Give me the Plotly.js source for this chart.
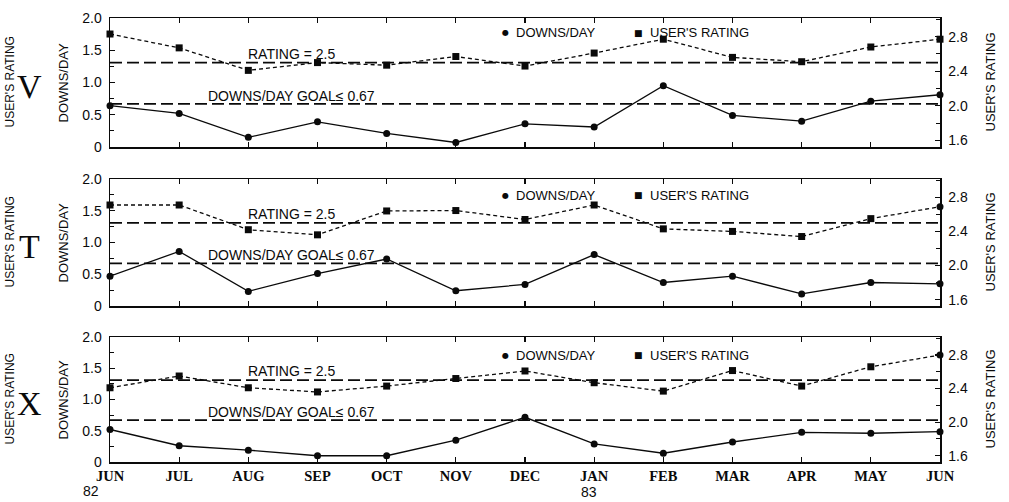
<!DOCTYPE html>
<html><head><meta charset="utf-8">
<script src="https://cdn.plot.ly/plotly-3.0.1.min.js"></script>
<style>html,body{margin:0;padding:0;background:#fff;overflow:hidden}</style>
</head><body><div id="chart" style="width:1009px;height:502px"></div>
<script>
// ---- data ----
const months = ["JUN","JUL","AUG","SEP","OCT","NOV","DEC","JAN","FEB","MAR","APR","MAY","JUN"];
const monthIndex = [0,1,2,3,4,5,6,7,8,9,10,11,12];
const yearLabels = ["82","83"];

const downsV  = [0.64,0.52,0.15,0.39,0.21,0.07,0.36,0.31,0.95,0.49,0.40,0.71,0.81];
const ratingV = [2.83,2.67,2.41,2.50,2.47,2.57,2.46,2.61,2.77,2.56,2.51,2.68,2.77];

const downsT  = [0.47,0.86,0.23,0.51,0.74,0.24,0.34,0.81,0.37,0.47,0.19,0.37,0.35];
const ratingT = [2.71,2.71,2.42,2.36,2.64,2.645,2.54,2.71,2.43,2.40,2.34,2.55,2.69];

const downsX  = [0.52,0.26,0.19,0.10,0.10,0.35,0.715,0.29,0.14,0.32,0.475,0.46,0.485];
const ratingX = [2.41,2.55,2.41,2.36,2.43,2.52,2.61,2.47,2.37,2.615,2.43,2.66,2.80];

const ratingTarget = 2.5;
const downsGoal = 0.67;
const leftTicks = [0,0.5,1,1.5,2];
const leftTickText = ["0","0.5","1.0","1.5","2.0"];
const leftMinor = [0.25,0.75,1.25,1.75];
const rightTicks = [1.6,2.0,2.4,2.8];
const rightTickText = ["1.6","2.0","2.4","2.8"];
const rightMinor = [1.8,2.2,2.6,3.0];

// ---- layout geometry ----
const W=1009, H=502, ML=110, MR=69, MT=18, MB=40;
const PW=W-ML-MR, PH=H-MT-MB;
const xp = px => (px-ML)/PW;
const yp = py => (H-MB-py)/PH;
const INK = '#0a0a0a';
const SANS = 'Liberation Sans, Arial, sans-serif';
const SERIF = 'Liberation Serif, Times New Roman, serif';

const panels = [
  {name:'V', downs:downsV, rating:ratingV, last:'square', x:'x3', y:'y5', y2:'y6', top:18,  bottom:147, bottomAxis:false},
  {name:'T', downs:downsT, rating:ratingT, last:'circle', x:'x2', y:'y3', y2:'y4', top:179, bottom:306, bottomAxis:false},
  {name:'X', downs:downsX, rating:ratingX, last:'circle', x:'x',  y:'y',  y2:'y2', top:337, bottom:462, bottomAxis:true}
];
const axKey = id => (id[0]==='x'?'xaxis':'yaxis') + id.slice(1);

const data = [], shapes = [], annotations = [];
const layout = {
  width:W, height:H, margin:{l:ML, r:MR, t:MT, b:MB, autoexpand:false},
  paper_bgcolor:'#fff', plot_bgcolor:'rgba(0,0,0,0)', showlegend:false,
  font:{family:SANS, color:INK}
};

panels.forEach(p => {
  const dom = [yp(p.bottom), yp(p.top)];
  const mid = (p.top+p.bottom)/2;
  data.push({x:monthIndex, y:p.downs, xaxis:p.x, yaxis:p.y, mode:'lines+markers',
    line:{color:INK, width:1.3}, marker:{symbol:'circle', size:7, color:INK}, cliponaxis:false});
  const syms = p.rating.map((v,i)=> i===p.rating.length-1 ? p.last : 'square');
  data.push({x:monthIndex, y:p.rating, xaxis:p.x, yaxis:p.y2, mode:'lines+markers',
    line:{color:INK, width:1.3, dash:'4px,3px'}, marker:{symbol:syms, size:7, color:INK}, cliponaxis:false});

  layout[axKey(p.x)] = {domain:[0,1], range:[0,12], anchor:p.y, tickmode:'array',
    tickvals:monthIndex, ticktext:months, showticklabels:p.bottomAxis,
    ticks:'inside', ticklen:5, tickwidth:1.2, tickcolor:INK, showline:true, linecolor:INK, linewidth:1.5,
    mirror:'ticks', showgrid:false, zeroline:false, fixedrange:true,
    tickfont:{family:SERIF, size:14.5, color:INK, weight:'bold'}};
  layout[axKey(p.y)] = {domain:dom, range:[0,2], anchor:p.x, tickmode:'array',
    tickvals:leftTicks, ticktext:leftTickText, ticks:'inside', ticklen:5, tickwidth:1.2, tickcolor:INK,
    minor:{tickmode:'array', tickvals:leftMinor, ticks:'inside', ticklen:4, tickwidth:1, tickcolor:INK},
    showline:true, linecolor:INK, linewidth:1.5, showgrid:false, zeroline:false, ticklabelstandoff:4,
    tickfont:{family:SANS, size:14, color:INK}};
  layout[axKey(p.y2)] = {overlaying:p.y, side:'right', anchor:p.x, range:[1.525,3.015], tickmode:'array',
    tickvals:rightTicks, ticktext:rightTickText, ticks:'inside', ticklen:5, tickwidth:1.2, tickcolor:INK,
    minor:{tickmode:'array', tickvals:rightMinor, ticks:'inside', ticklen:4, tickwidth:1, tickcolor:INK},
    showline:true, linecolor:INK, linewidth:1.5, showgrid:false, zeroline:false, ticklabelstandoff:4,
    tickfont:{family:SANS, size:14, color:INK}};

  shapes.push({type:'line', xref:p.x, yref:p.y2, x0:0, x1:12, y0:ratingTarget, y1:ratingTarget,
    line:{color:INK, width:1.8, dash:'12px,5px'}});
  shapes.push({type:'line', xref:p.x, yref:p.y, x0:0, x1:12, y0:downsGoal, y1:downsGoal,
    line:{color:INK, width:1.8, dash:'12px,5px'}});

  annotations.push({xref:'paper', yref:p.y2, x:xp(246), y:ratingTarget, xanchor:'left', yanchor:'bottom',
    text:'RATING = ' + ratingTarget, showarrow:false, yshift:-1, font:{family:SANS, size:14, color:INK}});
  annotations.push({xref:'paper', yref:p.y, x:xp(206), y:downsGoal, xanchor:'left', yanchor:'bottom',
    text:'DOWNS/DAY GOAL\u2264 ' + downsGoal, showarrow:false, yshift:-2, font:{family:SANS, size:14, color:INK}});

  const ly = p.name==='V'?33:(p.name==='T'?195:355);
  annotations.push({xref:'paper', yref:'paper', x:xp(505), y:yp(ly), xanchor:'center', yanchor:'middle',
    text:'\u25CF', showarrow:false, font:{family:'DejaVu Sans', size:8, color:INK}});
  annotations.push({xref:'paper', yref:'paper', x:xp(514), y:yp(ly), xanchor:'left', yanchor:'middle',
    text:'DOWNS/DAY', showarrow:false, font:{family:SANS, size:13, color:INK}});
  annotations.push({xref:'paper', yref:'paper', x:xp(638), y:yp(ly), xanchor:'center', yanchor:'middle',
    text:'\u25A0', showarrow:false, font:{family:'DejaVu Sans', size:9, color:INK}});
  annotations.push({xref:'paper', yref:'paper', x:xp(648), y:yp(ly), xanchor:'left', yanchor:'middle',
    text:"USER'S RATING", showarrow:false, font:{family:SANS, size:13, color:INK}});

  annotations.push({xref:'paper', yref:'paper', x:xp(29), y:yp(mid+4), xanchor:'center', yanchor:'middle',
    text:p.name, showarrow:false, font:{family:SERIF, size:34, color:INK}});
  annotations.push({xref:'paper', yref:'paper', x:xp(9), y:yp(mid), xanchor:'center', yanchor:'middle',
    text:"USER'S RATING", textangle:-90, showarrow:false, borderpad:0, font:{family:SANS, size:12, color:INK}});
  annotations.push({xref:'paper', yref:'paper', x:xp(63), y:yp(mid), xanchor:'center', yanchor:'middle',
    text:'DOWNS/DAY', textangle:-90, showarrow:false, font:{family:SANS, size:13, color:INK}});
  annotations.push({xref:'paper', yref:'paper', x:xp(990), y:yp(mid), xanchor:'center', yanchor:'middle',
    text:"USER'S RATING", textangle:-90, showarrow:false, font:{family:SANS, size:13, color:INK}});
});

annotations.push({xref:'paper', yref:'paper', x:xp(91), y:yp(491), xanchor:'center', yanchor:'middle',
  text:yearLabels[0], showarrow:false, borderpad:0, font:{family:SANS, size:14, color:INK}});
annotations.push({xref:'paper', yref:'paper', x:xp(589), y:yp(492), xanchor:'center', yanchor:'middle',
  text:yearLabels[1], showarrow:false, borderpad:0, font:{family:SANS, size:14, color:INK}});

layout.shapes = shapes;
layout.annotations = annotations;
Plotly.newPlot('chart', data, layout, {displayModeBar:false, staticPlot:true});
</script></body></html>
